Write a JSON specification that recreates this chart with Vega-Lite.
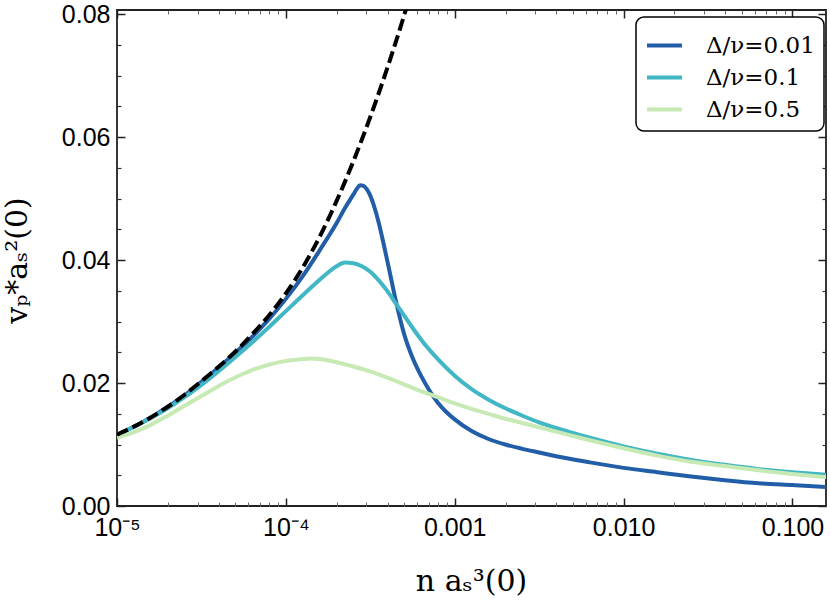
{
  "$schema": "https://vega.github.io/schema/vega-lite/v6.json",
  "width": 709,
  "height": 496,
  "autosize": "none",
  "padding": {"left": 117, "top": 10, "right": 4, "bottom": 94},
  "background": "white",
  "datasets": {
    "curves": [
      {"n": 1e-5, "v": 0.0116, "series": "Δ/ν=0.01"},
      {"n": 1.259e-5, "v": 0.0129, "series": "Δ/ν=0.01"},
      {"n": 1.585e-5, "v": 0.0144, "series": "Δ/ν=0.01"},
      {"n": 1.995e-5, "v": 0.0161, "series": "Δ/ν=0.01"},
      {"n": 2.512e-5, "v": 0.0180, "series": "Δ/ν=0.01"},
      {"n": 3.162e-5, "v": 0.0202, "series": "Δ/ν=0.01"},
      {"n": 3.981e-5, "v": 0.0225, "series": "Δ/ν=0.01"},
      {"n": 5.012e-5, "v": 0.0249, "series": "Δ/ν=0.01"},
      {"n": 6.31e-5, "v": 0.0275, "series": "Δ/ν=0.01"},
      {"n": 7.943e-5, "v": 0.0304, "series": "Δ/ν=0.01"},
      {"n": 1e-4, "v": 0.0337, "series": "Δ/ν=0.01"},
      {"n": 1.259e-4, "v": 0.0374, "series": "Δ/ν=0.01"},
      {"n": 1.585e-4, "v": 0.0416, "series": "Δ/ν=0.01"},
      {"n": 1.995e-4, "v": 0.0460, "series": "Δ/ν=0.01"},
      {"n": 2.239e-4, "v": 0.0485, "series": "Δ/ν=0.01"},
      {"n": 2.512e-4, "v": 0.0507, "series": "Δ/ν=0.01"},
      {"n": 2.63e-4, "v": 0.0516, "series": "Δ/ν=0.01"},
      {"n": 2.754e-4, "v": 0.0522, "series": "Δ/ν=0.01"},
      {"n": 2.884e-4, "v": 0.0521, "series": "Δ/ν=0.01"},
      {"n": 3.02e-4, "v": 0.0515, "series": "Δ/ν=0.01"},
      {"n": 3.162e-4, "v": 0.0505, "series": "Δ/ν=0.01"},
      {"n": 3.311e-4, "v": 0.0490, "series": "Δ/ν=0.01"},
      {"n": 3.548e-4, "v": 0.0461, "series": "Δ/ν=0.01"},
      {"n": 3.802e-4, "v": 0.0425, "series": "Δ/ν=0.01"},
      {"n": 4.074e-4, "v": 0.0387, "series": "Δ/ν=0.01"},
      {"n": 4.365e-4, "v": 0.0348, "series": "Δ/ν=0.01"},
      {"n": 4.677e-4, "v": 0.0312, "series": "Δ/ν=0.01"},
      {"n": 5.012e-4, "v": 0.0280, "series": "Δ/ν=0.01"},
      {"n": 5.495e-4, "v": 0.0248, "series": "Δ/ν=0.01"},
      {"n": 6.31e-4, "v": 0.0212, "series": "Δ/ν=0.01"},
      {"n": 7.079e-4, "v": 0.0188, "series": "Δ/ν=0.01"},
      {"n": 7.943e-4, "v": 0.0168, "series": "Δ/ν=0.01"},
      {"n": 8.913e-4, "v": 0.0153, "series": "Δ/ν=0.01"},
      {"n": 1e-3, "v": 0.0141, "series": "Δ/ν=0.01"},
      {"n": 1.259e-3, "v": 0.0122, "series": "Δ/ν=0.01"},
      {"n": 1.585e-3, "v": 0.0109, "series": "Δ/ν=0.01"},
      {"n": 1.995e-3, "v": 0.0100, "series": "Δ/ν=0.01"},
      {"n": 2.512e-3, "v": 0.0093, "series": "Δ/ν=0.01"},
      {"n": 3.162e-3, "v": 0.0087, "series": "Δ/ν=0.01"},
      {"n": 3.981e-3, "v": 0.0081, "series": "Δ/ν=0.01"},
      {"n": 6.31e-3, "v": 0.0071, "series": "Δ/ν=0.01"},
      {"n": 0.01, "v": 0.0062, "series": "Δ/ν=0.01"},
      {"n": 0.01585, "v": 0.0055, "series": "Δ/ν=0.01"},
      {"n": 0.02512, "v": 0.0048, "series": "Δ/ν=0.01"},
      {"n": 0.03981, "v": 0.0042, "series": "Δ/ν=0.01"},
      {"n": 0.0631, "v": 0.0037, "series": "Δ/ν=0.01"},
      {"n": 0.1, "v": 0.0034, "series": "Δ/ν=0.01"},
      {"n": 0.1585, "v": 0.0031, "series": "Δ/ν=0.01"},

      {"n": 1e-5, "v": 0.0116, "series": "Δ/ν=0.1"},
      {"n": 1.259e-5, "v": 0.0129, "series": "Δ/ν=0.1"},
      {"n": 1.585e-5, "v": 0.0143, "series": "Δ/ν=0.1"},
      {"n": 1.995e-5, "v": 0.0159, "series": "Δ/ν=0.1"},
      {"n": 2.512e-5, "v": 0.0177, "series": "Δ/ν=0.1"},
      {"n": 3.162e-5, "v": 0.0197, "series": "Δ/ν=0.1"},
      {"n": 3.981e-5, "v": 0.0219, "series": "Δ/ν=0.1"},
      {"n": 5.012e-5, "v": 0.0242, "series": "Δ/ν=0.1"},
      {"n": 6.31e-5, "v": 0.0266, "series": "Δ/ν=0.1"},
      {"n": 7.943e-5, "v": 0.0291, "series": "Δ/ν=0.1"},
      {"n": 1e-4, "v": 0.0317, "series": "Δ/ν=0.1"},
      {"n": 1.259e-4, "v": 0.0343, "series": "Δ/ν=0.1"},
      {"n": 1.585e-4, "v": 0.0368, "series": "Δ/ν=0.1"},
      {"n": 1.778e-4, "v": 0.0380, "series": "Δ/ν=0.1"},
      {"n": 1.995e-4, "v": 0.0390, "series": "Δ/ν=0.1"},
      {"n": 2.239e-4, "v": 0.0396, "series": "Δ/ν=0.1"},
      {"n": 2.512e-4, "v": 0.0395, "series": "Δ/ν=0.1"},
      {"n": 2.818e-4, "v": 0.0390, "series": "Δ/ν=0.1"},
      {"n": 3.162e-4, "v": 0.0381, "series": "Δ/ν=0.1"},
      {"n": 3.548e-4, "v": 0.0367, "series": "Δ/ν=0.1"},
      {"n": 3.981e-4, "v": 0.0350, "series": "Δ/ν=0.1"},
      {"n": 4.467e-4, "v": 0.0330, "series": "Δ/ν=0.1"},
      {"n": 5.012e-4, "v": 0.0310, "series": "Δ/ν=0.1"},
      {"n": 5.623e-4, "v": 0.0290, "series": "Δ/ν=0.1"},
      {"n": 6.31e-4, "v": 0.0271, "series": "Δ/ν=0.1"},
      {"n": 7.943e-4, "v": 0.0239, "series": "Δ/ν=0.1"},
      {"n": 1e-3, "v": 0.0212, "series": "Δ/ν=0.1"},
      {"n": 1.259e-3, "v": 0.0190, "series": "Δ/ν=0.1"},
      {"n": 1.585e-3, "v": 0.0173, "series": "Δ/ν=0.1"},
      {"n": 1.995e-3, "v": 0.0159, "series": "Δ/ν=0.1"},
      {"n": 2.512e-3, "v": 0.0147, "series": "Δ/ν=0.1"},
      {"n": 3.162e-3, "v": 0.0136, "series": "Δ/ν=0.1"},
      {"n": 3.981e-3, "v": 0.0127, "series": "Δ/ν=0.1"},
      {"n": 6.31e-3, "v": 0.0111, "series": "Δ/ν=0.1"},
      {"n": 0.01, "v": 0.0097, "series": "Δ/ν=0.1"},
      {"n": 0.01585, "v": 0.0085, "series": "Δ/ν=0.1"},
      {"n": 0.02512, "v": 0.0075, "series": "Δ/ν=0.1"},
      {"n": 0.03981, "v": 0.0067, "series": "Δ/ν=0.1"},
      {"n": 0.0631, "v": 0.0060, "series": "Δ/ν=0.1"},
      {"n": 0.1, "v": 0.0055, "series": "Δ/ν=0.1"},
      {"n": 0.1585, "v": 0.0051, "series": "Δ/ν=0.1"},

      {"n": 1e-5, "v": 0.0111, "series": "Δ/ν=0.5"},
      {"n": 1.259e-5, "v": 0.0120, "series": "Δ/ν=0.5"},
      {"n": 1.585e-5, "v": 0.0132, "series": "Δ/ν=0.5"},
      {"n": 1.995e-5, "v": 0.0147, "series": "Δ/ν=0.5"},
      {"n": 2.512e-5, "v": 0.0163, "series": "Δ/ν=0.5"},
      {"n": 3.162e-5, "v": 0.0179, "series": "Δ/ν=0.5"},
      {"n": 3.981e-5, "v": 0.0195, "series": "Δ/ν=0.5"},
      {"n": 5.012e-5, "v": 0.0209, "series": "Δ/ν=0.5"},
      {"n": 6.31e-5, "v": 0.0221, "series": "Δ/ν=0.5"},
      {"n": 7.943e-5, "v": 0.0230, "series": "Δ/ν=0.5"},
      {"n": 1e-4, "v": 0.0236, "series": "Δ/ν=0.5"},
      {"n": 1.259e-4, "v": 0.0239, "series": "Δ/ν=0.5"},
      {"n": 1.413e-4, "v": 0.0240, "series": "Δ/ν=0.5"},
      {"n": 1.585e-4, "v": 0.0239, "series": "Δ/ν=0.5"},
      {"n": 1.995e-4, "v": 0.0234, "series": "Δ/ν=0.5"},
      {"n": 2.512e-4, "v": 0.0227, "series": "Δ/ν=0.5"},
      {"n": 3.162e-4, "v": 0.0219, "series": "Δ/ν=0.5"},
      {"n": 3.981e-4, "v": 0.0209, "series": "Δ/ν=0.5"},
      {"n": 5.012e-4, "v": 0.0198, "series": "Δ/ν=0.5"},
      {"n": 6.31e-4, "v": 0.0187, "series": "Δ/ν=0.5"},
      {"n": 7.943e-4, "v": 0.0177, "series": "Δ/ν=0.5"},
      {"n": 1e-3, "v": 0.0167, "series": "Δ/ν=0.5"},
      {"n": 1.259e-3, "v": 0.0158, "series": "Δ/ν=0.5"},
      {"n": 1.585e-3, "v": 0.0150, "series": "Δ/ν=0.5"},
      {"n": 1.995e-3, "v": 0.0142, "series": "Δ/ν=0.5"},
      {"n": 2.512e-3, "v": 0.0135, "series": "Δ/ν=0.5"},
      {"n": 3.981e-3, "v": 0.0121, "series": "Δ/ν=0.5"},
      {"n": 6.31e-3, "v": 0.0107, "series": "Δ/ν=0.5"},
      {"n": 0.01, "v": 0.0094, "series": "Δ/ν=0.5"},
      {"n": 0.01585, "v": 0.0082, "series": "Δ/ν=0.5"},
      {"n": 0.02512, "v": 0.0072, "series": "Δ/ν=0.5"},
      {"n": 0.03981, "v": 0.0065, "series": "Δ/ν=0.5"},
      {"n": 0.0631, "v": 0.0058, "series": "Δ/ν=0.5"},
      {"n": 0.1, "v": 0.0052, "series": "Δ/ν=0.5"},
      {"n": 0.1585, "v": 0.0047, "series": "Δ/ν=0.5"}
    ],
    "limit": [
      {"n": 1e-5, "v": 0.0116},
      {"n": 1.585e-5, "v": 0.0144},
      {"n": 2.512e-5, "v": 0.0181},
      {"n": 3.162e-5, "v": 0.0203},
      {"n": 3.981e-5, "v": 0.0226},
      {"n": 5.012e-5, "v": 0.0251},
      {"n": 6.31e-5, "v": 0.0279},
      {"n": 7.943e-5, "v": 0.0310},
      {"n": 1e-4, "v": 0.0346},
      {"n": 1.259e-4, "v": 0.0388},
      {"n": 1.585e-4, "v": 0.0438},
      {"n": 1.995e-4, "v": 0.0496},
      {"n": 2.512e-4, "v": 0.0561},
      {"n": 3.162e-4, "v": 0.0633},
      {"n": 3.981e-4, "v": 0.0712},
      {"n": 5.012e-4, "v": 0.0798},
      {"n": 5.623e-4, "v": 0.0844}
    ]
  },
  "layer": [
    {
      "data": {"name": "curves"},
      "transform": [{"filter": "datum.series === 'Δ/ν=0.01'"}],
      "mark": {"type": "line", "strokeWidth": 4, "clip": true, "interpolate": "monotone"},
      "encoding": {
        "x": {
          "field": "n", "type": "quantitative",
          "scale": {"type": "log", "domain": [1e-5, 0.158], "nice": false},
          "axis": {
            "orient": "bottom",
            "values": [1e-5, 1e-4, 1e-3, 1e-2, 1e-1],
            "labelExpr": "datum.value < 5e-5 ? '10⁻⁵' : datum.value < 5e-4 ? '10⁻⁴' : format(datum.value, '.3f')",
            "tickSize": -8, "tickWidth": 1.5, "tickColor": "#222",
            "labelPadding": 17, "labelFlush": false, "labelOverlap": false,
            "labelFont": "Liberation Sans", "labelFontSize": 25, "labelColor": "black",
            "domain": false, "grid": false,
            "title": "n aₛ³(0)", "titleFont": "DejaVu Serif", "titleFontSize": 30,
            "titleFontWeight": "normal", "titleColor": "black",
            "titleX": 354, "titleY": 84, "titleBaseline": "alphabetic", "titleAlign": "center"
          }
        },
        "y": {
          "field": "v", "type": "quantitative",
          "scale": {"domain": [0, 0.0807], "nice": false, "zero": false},
          "axis": {
            "orient": "left",
            "values": [0, 0.02, 0.04, 0.06, 0.08],
            "format": ".2f",
            "tickSize": -8, "tickWidth": 1.5, "tickColor": "#222",
            "labelPadding": 15,
            "labelFont": "Liberation Sans", "labelFontSize": 25, "labelColor": "black",
            "domain": false, "grid": false,
            "title": "vₚ*aₛ²(0)", "titleFont": "DejaVu Serif", "titleFontSize": 30,
            "titleFontWeight": "normal", "titleColor": "black",
            "titleAngle": 270, "titleX": -91, "titleY": 250,
            "titleBaseline": "alphabetic", "titleAlign": "center"
          }
        },
        "color": {
          "field": "series", "type": "nominal",
          "scale": {"domain": ["Δ/ν=0.01", "Δ/ν=0.1", "Δ/ν=0.5"], "range": ["#225ea8", "#41b6c4", "#c7e9b4"]},
          "legend": {
            "orient": "none", "legendX": 519, "legendY": 7, "title": null,
            "symbolType": "stroke", "symbolSize": 1225, "symbolStrokeWidth": 4,
            "labelFont": "DejaVu Serif", "labelFontSize": 23, "labelColor": "black",
            "labelOffset": 22, "rowPadding": -2, "padding": 9,
            "strokeColor": "black", "fillColor": "white", "cornerRadius": 8
          }
        }
      }
    },
    {
      "data": {"name": "curves"},
      "transform": [{"filter": "datum.series === 'Δ/ν=0.1'"}],
      "mark": {"type": "line", "strokeWidth": 4, "clip": true, "interpolate": "monotone"},
      "encoding": {
        "x": {
          "field": "n", "type": "quantitative",
          "axis": {
            "orient": "bottom",
            "values": [2e-5, 3e-5, 4e-5, 5e-5, 6e-5, 7e-5, 8e-5, 9e-5, 2e-4, 3e-4, 4e-4, 5e-4, 6e-4, 7e-4, 8e-4, 9e-4, 2e-3, 3e-3, 4e-3, 5e-3, 6e-3, 7e-3, 8e-3, 9e-3, 2e-2, 3e-2, 4e-2, 5e-2, 6e-2, 7e-2, 8e-2, 9e-2],
            "tickSize": -4, "tickWidth": 1, "tickColor": "#666",
            "labels": false, "domain": false, "grid": false, "title": null
          }
        },
        "y": {
          "field": "v", "type": "quantitative",
          "axis": {
            "orient": "left",
            "values": [0.005, 0.01, 0.015, 0.025, 0.03, 0.035, 0.045, 0.05, 0.055, 0.065, 0.07, 0.075],
            "tickSize": -4, "tickWidth": 1.2, "tickColor": "#333",
            "labels": false, "domain": false, "grid": false, "title": null
          }
        },
        "color": {"field": "series", "type": "nominal"}
      }
    },
    {
      "data": {"name": "curves"},
      "transform": [{"filter": "datum.series === 'Δ/ν=0.5'"}],
      "mark": {"type": "line", "strokeWidth": 4, "clip": true, "interpolate": "monotone"},
      "encoding": {
        "x": {
          "field": "n", "type": "quantitative",
          "axis": {
            "orient": "top",
            "values": [1e-5, 1e-4, 1e-3, 1e-2, 1e-1],
            "tickSize": -8, "tickWidth": 1.5, "tickColor": "#222",
            "labels": false, "domain": false, "grid": false, "title": null
          }
        },
        "y": {
          "field": "v", "type": "quantitative",
          "axis": {
            "orient": "right",
            "values": [0, 0.02, 0.04, 0.06, 0.08],
            "tickSize": -8, "tickWidth": 1.5, "tickColor": "#222",
            "labels": false, "domain": false, "grid": false, "title": null
          }
        },
        "color": {"field": "series", "type": "nominal"}
      }
    },
    {
      "data": {"name": "limit"},
      "mark": {"type": "line", "strokeWidth": 4, "color": "black", "strokeDash": [12, 5], "clip": true, "interpolate": "monotone"},
      "encoding": {
        "x": {
          "field": "n", "type": "quantitative",
          "axis": {
            "orient": "top",
            "values": [2e-5, 3e-5, 4e-5, 5e-5, 6e-5, 7e-5, 8e-5, 9e-5, 2e-4, 3e-4, 4e-4, 5e-4, 6e-4, 7e-4, 8e-4, 9e-4, 2e-3, 3e-3, 4e-3, 5e-3, 6e-3, 7e-3, 8e-3, 9e-3, 2e-2, 3e-2, 4e-2, 5e-2, 6e-2, 7e-2, 8e-2, 9e-2],
            "tickSize": -4, "tickWidth": 1, "tickColor": "#666",
            "labels": false, "domain": false, "grid": false, "title": null
          }
        },
        "y": {
          "field": "v", "type": "quantitative",
          "axis": {
            "orient": "right",
            "values": [0.005, 0.01, 0.015, 0.025, 0.03, 0.035, 0.045, 0.05, 0.055, 0.065, 0.07, 0.075],
            "tickSize": -4, "tickWidth": 1.2, "tickColor": "#333",
            "labels": false, "domain": false, "grid": false, "title": null
          }
        }
      }
    }
  ],
  "resolve": {"axis": {"x": "independent", "y": "independent"}},
  "config": {
    "view": {"stroke": "#222", "strokeWidth": 1.8},
    "legend": {"strokeWidth": 1.5}
  }
}
